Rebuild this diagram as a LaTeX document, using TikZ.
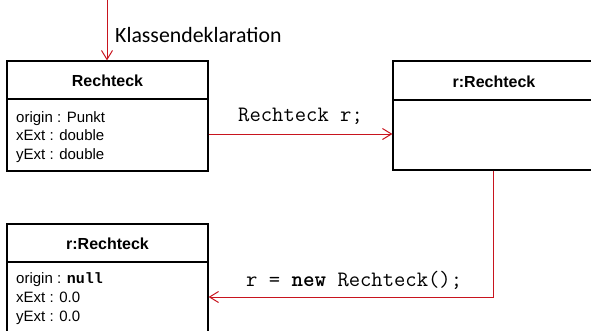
\documentclass[tikz,border=0pt]{standalone}
\usepackage{fontspec}
\setmainfont{Liberation Sans}
\newfontfamily\calfont{Carlito}
\newfontfamily\boldmono{Liberation Mono}
\usetikzlibrary{arrows.meta}
\definecolor{connred}{RGB}{200,20,30}
\tikzset{
  box/.style={draw=black, line width=1.2pt, minimum width=201pt, inner sep=0pt, fill=white},
  conn/.style={draw=connred, line width=1pt, -{Straight Barb[length=9pt,width=11pt,line width=1pt]}},
  ttl/.style={font=\fontsize{16}{18}\selectfont\bfseries, anchor=base},
  attr/.style={font=\fontsize{15}{18}\selectfont, anchor=base west, inner sep=0pt},
  code/.style={font=\fontsize{22}{24}\ttfamily, anchor=base west, inner sep=0pt},
  lbl/.style={font=\fontsize{21.8}{24}\calfont, anchor=base west, inner sep=0pt}
}
\begin{document}
\begin{tikzpicture}[x=1pt,y=-1pt]
\useasboundingbox (0,0) rectangle (591,330);
\clip (0,0) rectangle (591,330);
% boxes
\node[box, minimum height=110pt] (box1) at (107.5,116) {};
\node[box, minimum height=109pt] (box2) at (493.5,115.5) {};
\node[box, minimum height=110pt] (box3) at (107.5,279) {};
% dividers
\draw[line width=1.2pt] (box1.west |- 0,99) -- (box1.east |- 0,99);
\draw[line width=1.2pt] (box2.west |- 0,100) -- (box2.east |- 0,100);
\draw[line width=1.2pt] (box3.west |- 0,262) -- (box3.east |- 0,262);
% titles
\node[ttl] (t1) at (107.5,86.5) {Rechteck};
\node[ttl] (t2) at (494,87) {r:Rechteck};
\node[ttl] (t3) at (107.5,249) {r:Rechteck};
% attributes box1
\node[attr] (a11) at (16,122) {origin : Punkt};
\node[attr] (a12) at (16,140.5) {xExt : double};
\node[attr] (a13) at (16,159) {yExt : double};
% attributes box3
\node[attr] (a31) at (16,283) {origin : {\fontsize{15}{18}\boldmono\bfseries null}};
\node[attr] (a32) at (16,302) {xExt : 0.0};
\node[attr] (a33) at (16,321) {yExt : 0.0};
% top arrow
\coordinate (start) at (107,-2);
\draw[conn] (start) -- (start |- box1.north);
\node[lbl] (kd) at (115,42) {Klassendeklaration};
% connectors
\draw[conn] ([yshift=-18pt]box1.east) -- ([yshift=-18.5pt]box2.west);
\node[code] (c1) at (238,121) {Rechteck r;};
\draw[conn] (box2.south) |- ([yshift=-18pt]box3.east);
\node[code] (c2) at (246,286) {r = {\bfseries new} Rechteck();};
\end{tikzpicture}
\end{document}
